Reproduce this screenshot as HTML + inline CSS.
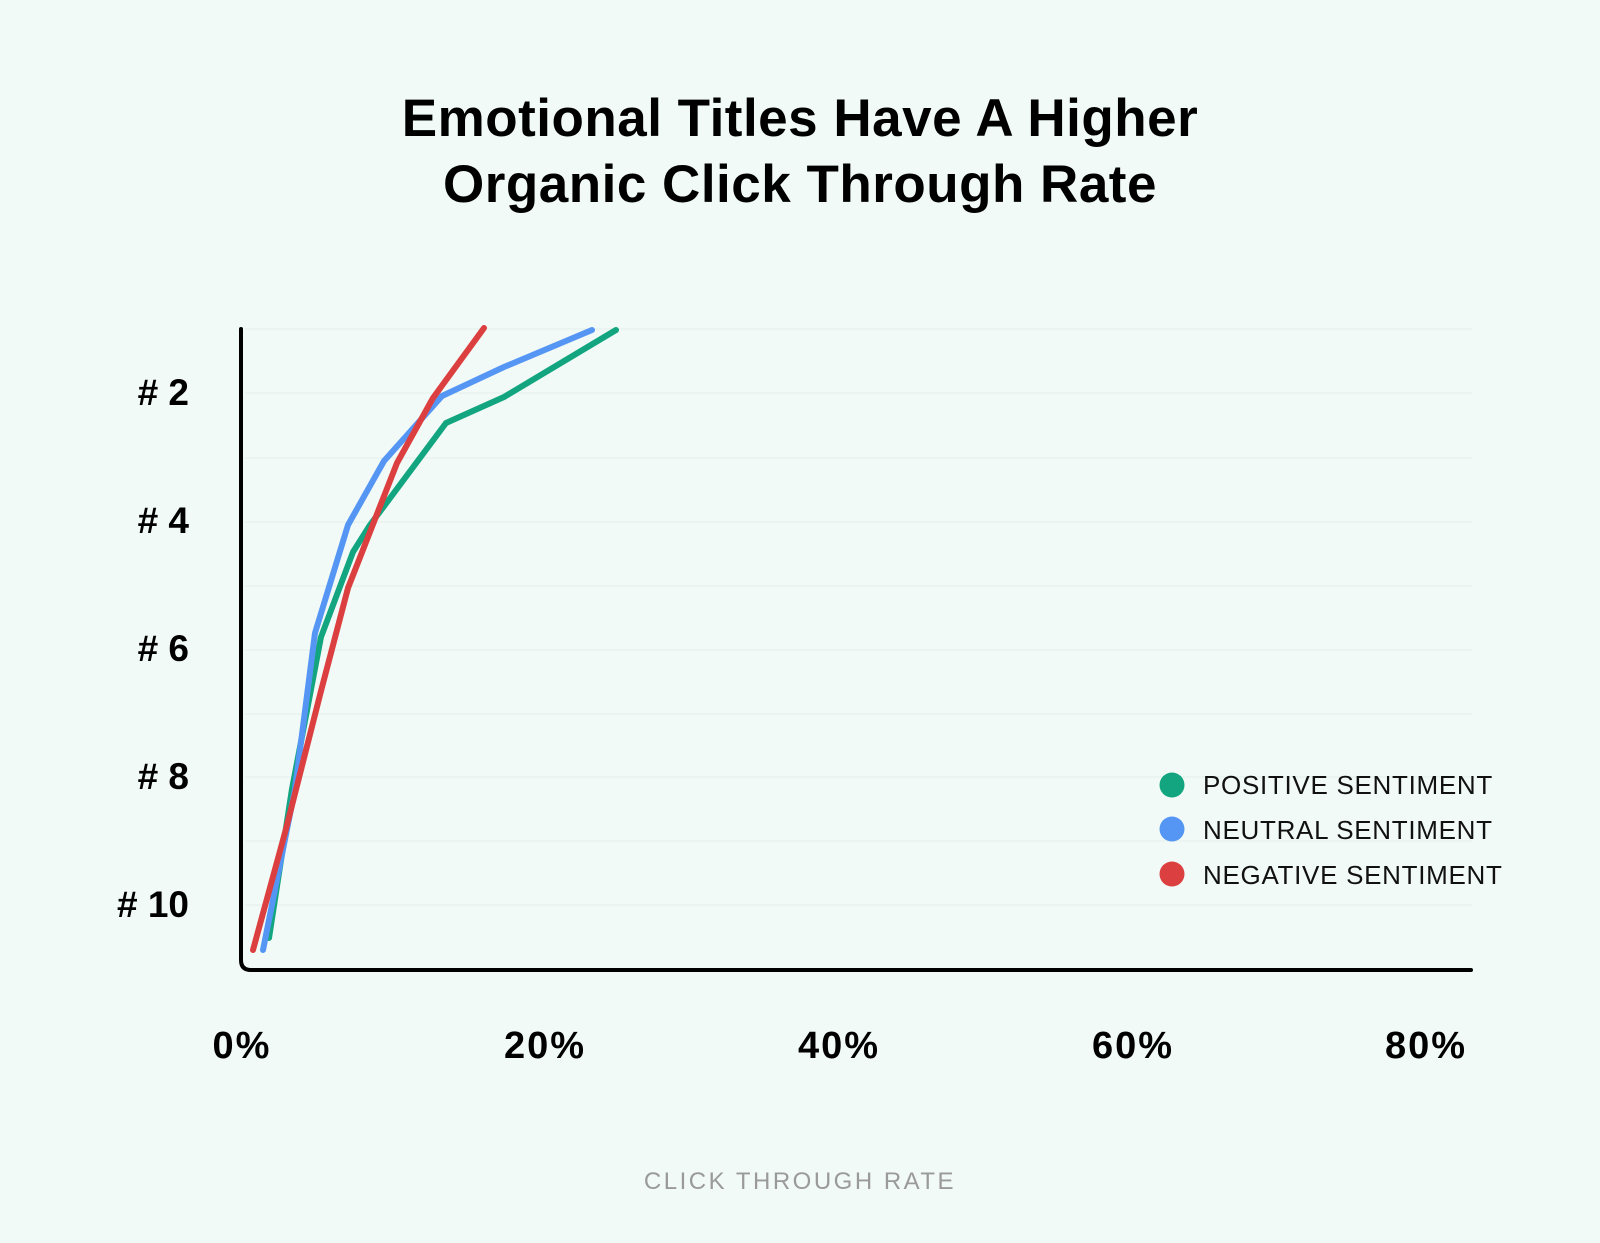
<!DOCTYPE html>
<html><head><meta charset="utf-8"><style>
html,body{margin:0;padding:0;background:#f1faf6;}
svg{display:block;}
</style></head><body>
<svg width="1600" height="1243" viewBox="0 0 1600 1243" xmlns="http://www.w3.org/2000/svg">
<rect width="1600" height="1243" fill="#f1faf6"/>
<g font-family="Liberation Sans, sans-serif" font-weight="bold" fill="#000" text-anchor="middle" font-size="53" letter-spacing="0.5">
<text x="800" y="136">Emotional Titles Have A Higher</text>
<text x="800" y="202">Organic Click Through Rate</text>
</g>
<g stroke="#e3eeea" stroke-width="1">
<line x1="245" y1="329" x2="1472" y2="329"/><line x1="245" y1="393" x2="1472" y2="393"/>
<line x1="245" y1="458" x2="1472" y2="458"/><line x1="245" y1="522" x2="1472" y2="522"/>
<line x1="245" y1="586" x2="1472" y2="586"/><line x1="245" y1="650" x2="1472" y2="650"/>
<line x1="245" y1="714" x2="1472" y2="714"/><line x1="245" y1="777" x2="1472" y2="777"/>
<line x1="245" y1="841" x2="1472" y2="841"/><line x1="245" y1="905" x2="1472" y2="905"/>
</g>
<path d="M241 329 V960 Q241 970 251 970 H1471" fill="none" stroke="#000" stroke-width="4" stroke-linecap="round"/>
<g font-family="Liberation Sans, sans-serif" font-weight="bold" font-size="37" text-anchor="end">
<text x="189" y="405"># 2</text>
<text x="189" y="533"># 4</text>
<text x="189" y="661"># 6</text>
<text x="189" y="789"># 8</text>
<text x="189" y="917"># 10</text>
</g>
<g font-family="Liberation Sans, sans-serif" font-weight="bold" font-size="38" text-anchor="middle" letter-spacing="2">
<text x="242" y="1058">0%</text>
<text x="545" y="1058">20%</text>
<text x="839" y="1058">40%</text>
<text x="1133" y="1058">60%</text>
<text x="1426" y="1058">80%</text>
</g>
<g fill="none" stroke-width="6" stroke-linecap="round" stroke-linejoin="round">
<polyline stroke="#12a57f" points="269,938 292,789 321,637 353,552 370,525 446,423 504,397 616,330"/>
<polyline stroke="#5596f5" points="263,950 295,789 315,633 348,525 384,461 442,396 504,367 592,330"/>
<polyline stroke="#dc3f3f" points="253,950 286,829 321,691 348,588 397,463 433,398 484,328"/>
</g>
<circle cx="1172" cy="785" r="12.5" fill="#12a57f"/>
<circle cx="1172" cy="829" r="12.5" fill="#5596f5"/>
<circle cx="1172" cy="874" r="12.5" fill="#dc3f3f"/>
<g font-family="Liberation Sans, sans-serif" font-size="26" letter-spacing="0.7" fill="#111">
<text x="1203" y="794">POSITIVE SENTIMENT</text>
<text x="1203" y="839">NEUTRAL SENTIMENT</text>
<text x="1203" y="884">NEGATIVE SENTIMENT</text>
</g>
<text x="800" y="1189" font-family="Liberation Sans, sans-serif" font-size="24" letter-spacing="2.5" fill="#9a9a9a" text-anchor="middle">CLICK THROUGH RATE</text>
</svg>
</body></html>
